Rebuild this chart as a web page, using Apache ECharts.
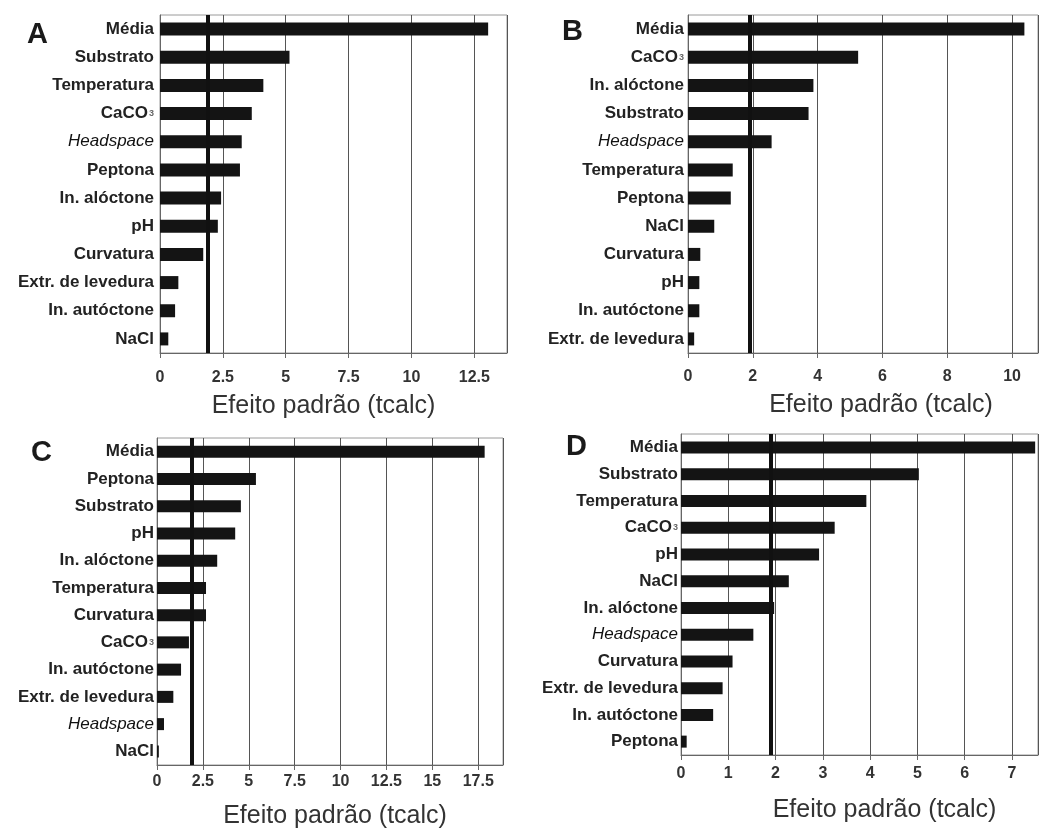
<!DOCTYPE html>
<html>
<head>
<meta charset="utf-8">
<script src="https://cdn.jsdelivr.net/npm/echarts@6/dist/echarts.min.js"></script>
<style>
  html, body { margin: 0; padding: 0; background: #fff; }
  #chart { width: 1039px; height: 830px; }
</style>
</head>
<body>
<div id="chart"></div>
<script>
// Pareto charts of standardized effects (four experiments)
const categoriesA = ['Média', 'Substrato', 'Temperatura', 'CaCO3', 'Headspace', 'Peptona', 'In. alóctone', 'pH', 'Curvatura', 'Extr. de levedura', 'In. autóctone', 'NaCl'];
const valuesA = [13.05, 5.15, 4.11, 3.65, 3.25, 3.18, 2.43, 2.30, 1.72, 0.73, 0.60, 0.33];

const categoriesB = ['Média', 'CaCO3', 'In. alóctone', 'Substrato', 'Headspace', 'Temperatura', 'Peptona', 'NaCl', 'Curvatura', 'pH', 'In. autóctone', 'Extr. de levedura'];
const valuesB = [10.38, 5.25, 3.87, 3.72, 2.58, 1.38, 1.32, 0.81, 0.38, 0.35, 0.35, 0.19];

const categoriesC = ['Média', 'Peptona', 'Substrato', 'pH', 'In. alóctone', 'Temperatura', 'Curvatura', 'CaCO3', 'In. autóctone', 'Extr. de levedura', 'Headspace', 'NaCl'];
const valuesC = [17.85, 5.39, 4.57, 4.26, 3.28, 2.67, 2.67, 1.74, 1.31, 0.89, 0.38, 0.10];

const categoriesD = ['Média', 'Substrato', 'Temperatura', 'CaCO3', 'pH', 'NaCl', 'In. alóctone', 'Headspace', 'Curvatura', 'Extr. de levedura', 'In. autóctone', 'Peptona'];
const valuesD = [7.49, 5.03, 3.92, 3.25, 2.92, 2.28, 1.97, 1.53, 1.09, 0.88, 0.68, 0.12];

// critical t value (p = 0.05)
const tCritico = 1.89;

// x-axis scale per panel
const panelLetters = ['A', 'B', 'C', 'D'];
const axisMax = [13.8, 10.8, 18.85, 7.55];
const axisInterval = [2.5, 2, 2.5, 1];
const axisTitle = 'Efeito padrão (tcalc)';

const FONT = "'Liberation Sans', Arial, Helvetica, sans-serif";

const panels = [
  { cats: categoriesA, vals: valuesA, grid: { left: 160, top: 15, width: 347, height: 338 }, barW: 13, labMargin: 6, tickMargin: 17, nameGap: 41, namePad: [0, 20, 0, 0], letter: { left: 27, top: 20 } },
  { cats: categoriesB, vals: valuesB, grid: { left: 688, top: 15, width: 350, height: 338 }, barW: 13, labMargin: 4, tickMargin: 16, nameGap: 40, namePad: [0, 0, 0, 36], letter: { left: 562, top: 17 } },
  { cats: categoriesC, vals: valuesC, grid: { left: 157, top: 438, width: 346, height: 327 }, barW: 12, labMargin: 3, tickMargin: 9, nameGap: 39, namePad: [0, 0, 0, 10], letter: { left: 31, top: 438 } },
  { cats: categoriesD, vals: valuesD, grid: { left: 681, top: 434, width: 357, height: 321 }, barW: 12, labMargin: 3, tickMargin: 11, nameGap: 43, namePad: [0, 0, 0, 50], letter: { left: 566, top: 432 } }
];

function catLabel(name) {
  if (name === 'Headspace') return '{i|Headspace}';
  if (name === 'CaCO3') return 'CaCO{s|3}';
  return name;
}

const option = {
  backgroundColor: '#fff',
  animation: false,
  title: panels.map((p, i) => ({
    text: panelLetters[i],
    left: p.letter.left,
    top: p.letter.top,
    padding: 0,
    textStyle: { fontFamily: FONT, fontSize: 29, fontWeight: 'bold', color: '#1a1a1a' }
  })),
  grid: panels.map(p => Object.assign({ show: true, borderColor: '#9a9a9a', borderWidth: 1, containLabel: false }, p.grid)),
  xAxis: panels.map((p, i) => ({
    type: 'value',
    gridIndex: i,
    min: 0,
    max: axisMax[i],
    interval: axisInterval[i],
    name: axisTitle,
    nameLocation: 'middle',
    nameGap: p.nameGap,
    nameTextStyle: { fontFamily: FONT, fontSize: 25, color: '#333', padding: p.namePad },
    axisLine: { show: true, lineStyle: { color: '#666', width: 1 } },
    axisTick: { show: true, length: 5, lineStyle: { color: '#666' } },
    axisLabel: { showMaxLabel: false, margin: p.tickMargin, fontFamily: FONT, fontSize: 16, fontWeight: 'bold', color: '#333' },
    splitLine: { show: true, lineStyle: { color: '#555', width: 1 } }
  })),
  yAxis: panels.map((p, i) => ({
    type: 'category',
    gridIndex: i,
    data: p.cats,
    inverse: true,
    axisLine: { show: true, lineStyle: { color: '#666', width: 1 } },
    axisTick: { show: false },
    splitLine: { show: false },
    axisLabel: {
      margin: p.labMargin,
      fontFamily: FONT,
      fontSize: 17,
      fontWeight: 'bold',
      color: '#222',
      formatter: catLabel,
      rich: {
        i: { fontFamily: FONT, fontSize: 17, fontStyle: 'italic', fontWeight: 'normal', color: '#111' },
        s: { fontFamily: FONT, fontSize: 9, color: '#666', padding: [0, 0, 0, 1] }
      }
    }
  })),
  series: panels.map((p, i) => ({
    type: 'bar',
    xAxisIndex: i,
    yAxisIndex: i,
    data: p.vals,
    barWidth: p.barW,
    itemStyle: { color: '#141414' },
    markLine: {
      silent: true,
      symbol: 'none',
      label: { show: false },
      lineStyle: { color: '#111', width: 4, type: 'solid' },
      data: [{ xAxis: tCritico }]
    }
  }))
};

const chart = echarts.init(document.getElementById('chart'), null, { renderer: 'canvas' });
chart.setOption(option);
</script>
</body>
</html>
